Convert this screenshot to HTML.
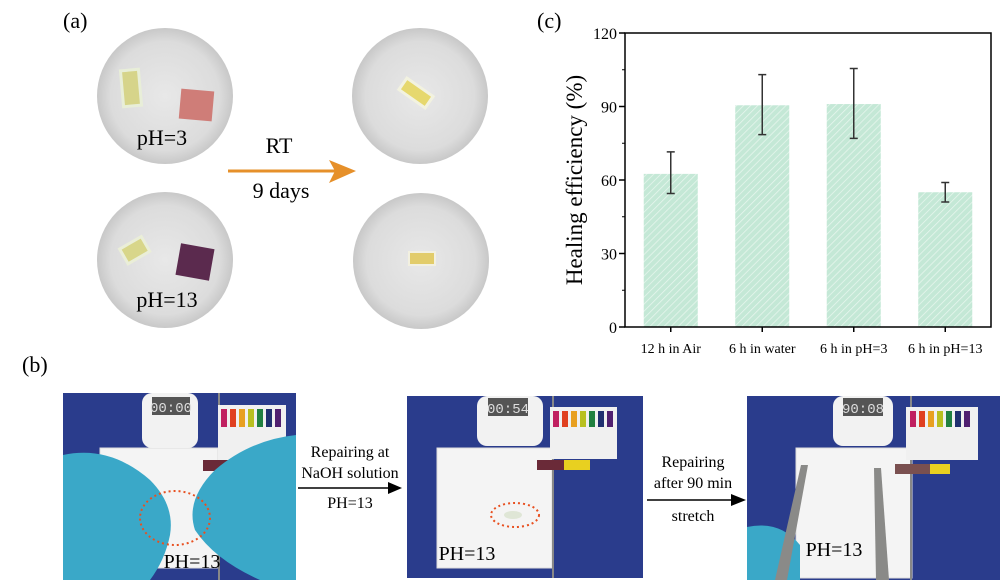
<!DOCTYPE html>
<html><head><meta charset="utf-8"><style>
body{margin:0;background:#fff;width:1000px;height:582px;overflow:hidden;font-family:"Liberation Serif",serif}
svg{display:block}
</style></head><body>
<svg width="1000" height="582" viewBox="0 0 1000 582">
<defs>
<radialGradient id="cg" cx="50%" cy="50%" r="50%"><stop offset="0" stop-color="#e8e8e8"/><stop offset="0.8" stop-color="#dcdcdc"/><stop offset="1" stop-color="#c8c8c8"/></radialGradient>
<pattern id="hatch" width="5" height="5" patternUnits="userSpaceOnUse" patternTransform="rotate(45)"><rect width="5" height="5" fill="#c4e8d6"/><line x1="0" y1="0" x2="0" y2="5" stroke="#e8f6ee" stroke-width="1.5"/></pattern>
</defs>
<g font-size="22">
<text x="63" y="28">(a)</text>
<circle cx="165" cy="96" r="68" fill="url(#cg)"/>
<rect x="122" y="70" width="18" height="36" fill="#d6d48a" stroke="#e8eed8" stroke-width="3" transform="rotate(-5 131 88)"/>
<rect x="180" y="90" width="33" height="30" fill="#cf7d78" transform="rotate(5 196 105)"/>
<text x="162" y="145" text-anchor="middle">pH=3</text>
<circle cx="165" cy="260" r="68" fill="url(#cg)"/>
<rect x="122" y="242" width="25" height="17" fill="#d8d68a" stroke="#eaeed8" stroke-width="3" transform="rotate(-30 134 250)"/>
<rect x="178" y="246" width="34" height="32" fill="#5b2a4e" transform="rotate(10 195 262)"/>
<text x="167" y="307" text-anchor="middle">pH=13</text>
<circle cx="420" cy="96" r="68" fill="url(#cg)"/>
<rect x="400" y="86" width="32" height="14" fill="#e6d86e" stroke="#f2f2e0" stroke-width="3" transform="rotate(35 416 93)"/>
<circle cx="421" cy="261" r="68" fill="url(#cg)"/>
<rect x="409" y="252" width="26" height="13" fill="#e2cc6a" stroke="#f2f0e0" stroke-width="2"/>
<line x1="228" y1="171" x2="343" y2="171" stroke="#e6902a" stroke-width="3"/>
<polygon points="356,171 329,160 335,171 329,183" fill="#e6902a"/>
<text x="279" y="153" text-anchor="middle">RT</text>
<text x="281" y="198" text-anchor="middle">9 days</text>
</g>
<g id="chart">
<text x="537" y="28" font-size="22">(c)</text>
</g>
<g>
<text x="22" y="372" font-size="22">(b)</text>
<g>
<rect x="63" y="393" width="233" height="187" fill="#2a3c8c"/>
<rect x="100" y="448" width="118" height="120" fill="#f4f4f4" stroke="#ddd"/>
<rect x="218" y="393" width="2" height="187" fill="#888"/>
<rect x="142" y="393" width="56" height="55" rx="10" fill="#f2f2f2"/>
<rect x="152" y="397" width="38" height="18" fill="#555"/>
<text x="171" y="412" text-anchor="middle" font-size="14" fill="#ddd" font-family="Liberation Mono">00:00</text>
<rect x="218" y="405" width="68" height="55" fill="#f0f0f0"/>
<g><rect x="221" y="409" width="6" height="18" fill="#c02060"/><rect x="230" y="409" width="6" height="18" fill="#e04020"/><rect x="239" y="409" width="6" height="18" fill="#e8a020"/><rect x="248" y="409" width="6" height="18" fill="#b8c020"/><rect x="257" y="409" width="6" height="18" fill="#208040"/><rect x="266" y="409" width="6" height="18" fill="#203070"/><rect x="275" y="409" width="6" height="18" fill="#502070"/></g>
<rect x="203" y="460" width="26" height="11" fill="#6a2a38"/><rect x="229" y="460" width="31" height="11" fill="#e8d020"/>
<path d="M63 455 Q110 445 150 480 Q175 505 170 535 Q165 560 150 580 L63 580Z" fill="#3aa8c8"/>
<path d="M296 435 Q250 440 215 470 Q185 500 195 530 Q215 560 260 580 L296 580Z" fill="#3aa8c8"/>
<ellipse cx="175" cy="518" rx="35" ry="27" fill="none" stroke="#e85020" stroke-width="2" stroke-dasharray="2 3"/>
<text x="192" y="568" text-anchor="middle" font-size="20">PH=13</text>
</g>
<g font-size="16">
<line x1="298" y1="488" x2="390" y2="488" stroke="#000" stroke-width="1.5"/><polygon points="402,488 388,482 388,494"/>
<text x="350" y="457" text-anchor="middle">Repairing at</text>
<text x="350" y="478" text-anchor="middle">NaOH solution</text>
<text x="350" y="508" text-anchor="middle">PH=13</text>
</g>
<g>
<rect x="407" y="396" width="236" height="182" fill="#2a3c8c"/>
<rect x="437" y="448" width="115" height="120" fill="#f4f4f4" stroke="#ddd"/>
<rect x="552" y="396" width="2" height="182" fill="#888"/>
<rect x="477" y="396" width="66" height="50" rx="10" fill="#f2f2f2"/>
<rect x="488" y="398" width="40" height="18" fill="#555"/>
<text x="508" y="413" text-anchor="middle" font-size="14" fill="#ddd" font-family="Liberation Mono">00:54</text>
<rect x="550" y="407" width="67" height="52" fill="#f0f0f0"/>
<g><rect x="553" y="411" width="6" height="16" fill="#c02060"/><rect x="562" y="411" width="6" height="16" fill="#e04020"/><rect x="571" y="411" width="6" height="16" fill="#e8a020"/><rect x="580" y="411" width="6" height="16" fill="#b8c020"/><rect x="589" y="411" width="6" height="16" fill="#208040"/><rect x="598" y="411" width="6" height="16" fill="#203070"/><rect x="607" y="411" width="6" height="16" fill="#502070"/></g>
<rect x="537" y="460" width="27" height="10" fill="#6a2a38"/><rect x="564" y="460" width="26" height="10" fill="#e8d020"/>
<ellipse cx="515" cy="515" rx="24" ry="12" fill="none" stroke="#e85020" stroke-width="2" stroke-dasharray="2 3"/>
<ellipse cx="513" cy="515" rx="9" ry="4" fill="#dfe6d6"/>
<text x="467" y="560" text-anchor="middle" font-size="20">PH=13</text>
</g>
<g font-size="16">
<line x1="647" y1="500" x2="733" y2="500" stroke="#000" stroke-width="1.5"/><polygon points="746,500 731,494 731,506"/>
<text x="693" y="467" text-anchor="middle">Repairing</text>
<text x="693" y="488" text-anchor="middle">after 90 min</text>
<text x="693" y="521" text-anchor="middle">stretch</text>
</g>
<g>
<rect x="747" y="396" width="253" height="184" fill="#2a3c8c"/>
<rect x="796" y="448" width="116" height="130" fill="#f4f4f4" stroke="#ddd"/>
<rect x="910" y="396" width="2" height="184" fill="#888"/>
<rect x="833" y="396" width="60" height="50" rx="10" fill="#f2f2f2"/>
<rect x="843" y="398" width="40" height="18" fill="#555"/>
<text x="863" y="413" text-anchor="middle" font-size="14" fill="#ddd" font-family="Liberation Mono">90:08</text>
<rect x="906" y="407" width="72" height="53" fill="#f0f0f0"/>
<g><rect x="910" y="411" width="6" height="16" fill="#c02060"/><rect x="919" y="411" width="6" height="16" fill="#e04020"/><rect x="928" y="411" width="6" height="16" fill="#e8a020"/><rect x="937" y="411" width="6" height="16" fill="#b8c020"/><rect x="946" y="411" width="6" height="16" fill="#208040"/><rect x="955" y="411" width="6" height="16" fill="#203070"/><rect x="964" y="411" width="6" height="16" fill="#502070"/></g>
<rect x="895" y="464" width="35" height="10" fill="#7a5050"/><rect x="930" y="464" width="20" height="10" fill="#e8d020"/>
<path d="M747 527 Q780 520 800 545 L800 580 L747 580Z" fill="#3aa8c8"/>
<polygon points="801,465 808,465 787,580 775,580" fill="#8a8a88"/>
<polygon points="874,468 881,468 889,580 876,580" fill="#8a8a88"/>
<text x="834" y="556" text-anchor="middle" font-size="20">PH=13</text>
</g>
</g>
</svg>
<script>
const categories=["12 h in Air","6 h in water","6 h in pH=3","6 h in pH=13"];
const values=[62.5,90.5,91,55];
const errUpper=[71.5,103,105.5,59];
const errLower=[54.5,78.5,77,51];
const yTicks=[0,30,60,90,120];
const NS="http://www.w3.org/2000/svg";
const g=document.getElementById('chart');
const X0=625,X1=991,Y0=327,Y1=33,YMAX=120;
const y=v=>Y0-v/YMAX*(Y0-Y1);
const band=(X1-X0)/categories.length;
const x=i=>X0+band*(i+0.5);
function mk(t,a){const e=document.createElementNS(NS,t);for(const k in a)e.setAttribute(k,a[k]);g.appendChild(e);return e;}
categories.forEach((c,i)=>{
 const b=mk('rect',{x:x(i)-27,y:y(values[i]),width:54,height:Y0-y(values[i]),fill:'url(#hatch)'});
 
 
 const e=mk('path',{d:`M${x(i)-4} ${y(errUpper[i])}H${x(i)+4}M${x(i)} ${y(errUpper[i])}V${y(errLower[i])}M${x(i)-4} ${y(errLower[i])}H${x(i)+4}`,stroke:'#333','stroke-width':1.5,fill:'none'});
 
 
 mk('line',{x1:x(i),x2:x(i),y1:Y0,y2:Y0+5,stroke:'#000','stroke-width':1.5});
 const t=mk('text',{x:x(i),y:353,'text-anchor':'middle','font-size':14});
 t.textContent=c;
 
 
});
const frame=mk('rect',{x:X0,y:Y1,width:X1-X0,height:Y0-Y1,fill:'none',stroke:'#000','stroke-width':1.5});


yTicks.forEach((v,k)=>{
 mk('line',{x1:X0-6,x2:X0,y1:y(v),y2:y(v),stroke:'#000','stroke-width':1.5});
 if(k<yTicks.length-1)mk('line',{x1:X0-3,x2:X0,y1:y(v+15),y2:y(v+15),stroke:'#000','stroke-width':1});
 const t=mk('text',{x:X0-8,y:y(v)+6,'text-anchor':'end','font-size':16});
 t.textContent=v;
 
 
});
const yt=mk('text',{x:0,y:0,'text-anchor':'middle','font-size':23,transform:'translate(582 180) rotate(-90)'});
yt.textContent='Healing   efficiency (%)';


</script>
</body></html>
